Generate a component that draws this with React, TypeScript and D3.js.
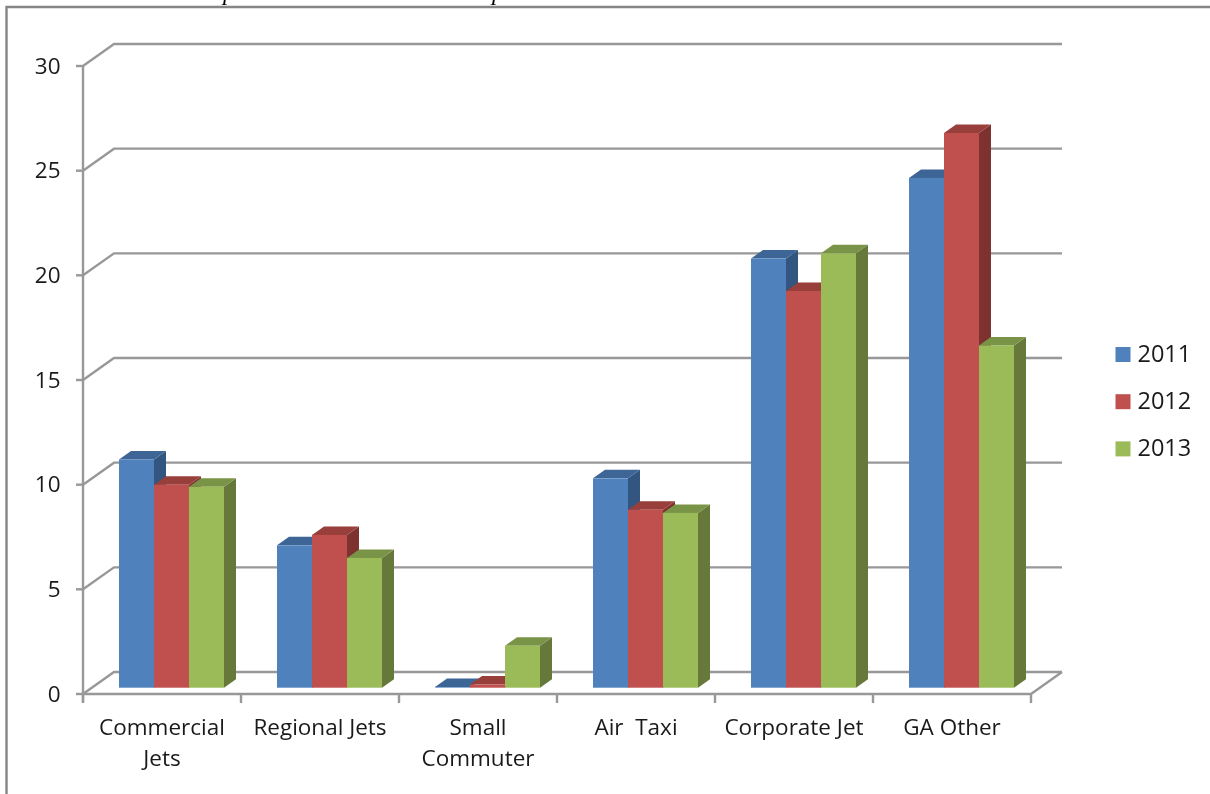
import React from "react";
import * as d3 from "d3";

const categories = ["Commercial Jets", "Regional Jets", "Small Commuter", "Air  Taxi", "Corporate Jet", "GA Other"];
const categoryLines = [["Commercial", "Jets"], ["Regional Jets"], ["Small", "Commuter"], ["Air  Taxi"], ["Corporate Jet"], ["GA Other"]];
const seriesNames = ["2011", "2012", "2013"];
const values2011 = [10.9, 6.8, 0.03, 10.0, 20.5, 24.35];
const values2012 = [9.7, 7.3, 0.15, 8.5, 18.95, 26.5];
const values2013 = [9.6, 6.2, 2.0, 8.35, 20.75, 16.35];
const yTicks = [0, 5, 10, 15, 20, 25, 30];
const front = ["#4f81bd", "#c0504d", "#9bbb59"];
const top = ["#3d6696", "#983f3c", "#7a9447"];
const side = ["#335680", "#7e3230", "#66793a"];

const FONT = "'Open Sans','Noto Sans','DejaVu Sans',sans-serif";
const GRID = "#989898";
const DX = 31, DY = 22;
const BAR_DX = 12, BAR_DY = 8.5;

export default function App() {
  const series = [values2011, values2012, values2013];
  const y = d3.scaleLinear().domain([0, 30]).range([694, 66]);
  const x = d3.scaleBand<string>().domain(categories).range([83, 1031]);
  const barH = y(0) - y(1);
  const BASE = 687.7;
  const BAR_W = 35;
  const OFF = 36;
  return (
    <svg width={1210} height={794} style={{ position: "absolute", left: 0, top: 0, background: "#fff" }}>
      <g style={{ filter: "blur(0.45px)" }}>
        <g fontFamily="'Liberation Serif',serif" fontStyle="italic" fontSize={24} fill="#000">
          <text x={223} y={0}>p</text>
          <text x={492} y={0}>p</text>
        </g>
        <path d="M6.5,794V7H1210" fill="none" stroke="#858585" strokeWidth={2.4} />
        {yTicks.map((t) => (
          <g key={t}>
            <path d={`M${83},${y(t)}L${83 + DX},${y(t) - DY}H${1031 + DX}`} fill="none" stroke={GRID} strokeWidth={2.4} />
            <line x1={76} x2={83} y1={y(t)} y2={y(t)} stroke={GRID} strokeWidth={2.4} />
            <text x={60.5} y={y(t) + 7.5} textAnchor="end" fontFamily={FONT} fontSize={22.5} fill="#1a1a1a">{t}</text>
          </g>
        ))}
        <line x1={83} x2={83} y1={66} y2={702} stroke={GRID} strokeWidth={2.4} />
        <path d={`M83,694H1031L${1031 + DX},${694 - DY}`} fill="none" stroke={GRID} strokeWidth={2.4} />
        {d3.range(categories.length + 1).map((i) => {
          const px = 83 + i * x.bandwidth();
          return <line key={i} x1={px} x2={px} y1={694} y2={703} stroke={GRID} strokeWidth={2.4} />;
        })}
        {categories.map((c, i) => (
          <g key={c}>
            {series.map((vals, s) => {
              const x0 = (x(c) as number) + OFF + s * BAR_W;
              const x1 = x0 + BAR_W;
              const yt = BASE - vals[i] * barH;
              return (
                <g key={s}>
                  <path d={`M${x1},${yt}L${x1 + BAR_DX},${yt - BAR_DY}V${BASE - BAR_DY}L${x1},${BASE}Z`} fill={side[s]} />
                  <path d={`M${x0},${yt}L${x0 + BAR_DX},${yt - BAR_DY}H${x1 + BAR_DX}L${x1},${yt}Z`} fill={top[s]} />
                  <rect x={x0} y={yt} width={BAR_W} height={BASE - yt} fill={front[s]} />
                </g>
              );
            })}
            {categoryLines[i].map((line, k) => (
              <text key={k} x={(x(c) as number) + x.bandwidth() / 2} y={734.5 + k * 31} textAnchor="middle" fontFamily={FONT} fontSize={22.5} fill="#1a1a1a" style={{ whiteSpace: "pre" }}>{line}</text>
            ))}
          </g>
        ))}
        {seriesNames.map((n, s) => (
          <g key={n}>
            <rect x={1115.5} y={347 + s * 47.2} width={15} height={15} fill={front[s]} />
            <text x={1137.5} y={362 + s * 47.2} fontFamily={FONT} fontSize={23.5} fill="#1a1a1a">{n}</text>
          </g>
        ))}
      </g>
    </svg>
  );
}
